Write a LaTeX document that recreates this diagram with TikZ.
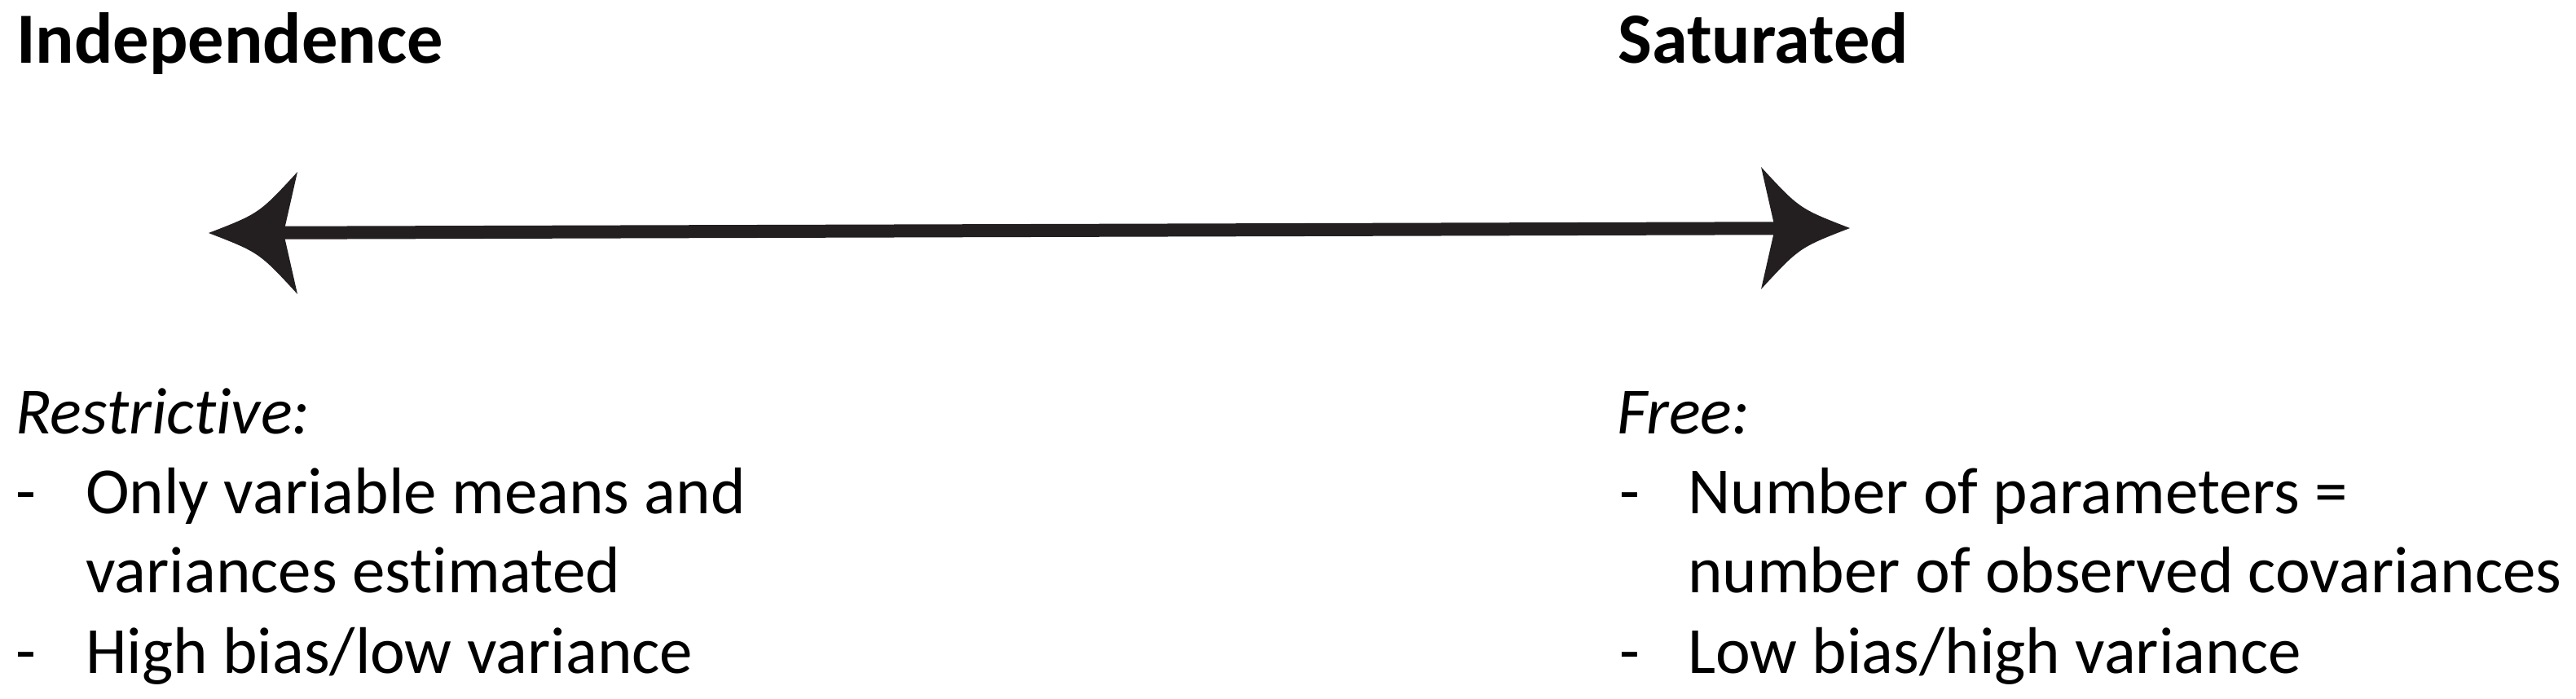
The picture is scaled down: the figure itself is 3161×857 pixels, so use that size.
\documentclass[tikz,border=0pt]{standalone}
\usepackage{fontspec}
\setmainfont{Carlito}[Ligatures=NoCommon]
\definecolor{arrowcol}{HTML}{231F20}
\tikzset{
  headtext/.style={font=\bfseries\fontsize{88.5}{104}\selectfont, anchor=base west, inner sep=0pt},
  subtext/.style={font=\itshape\fontsize{81}{97}\selectfont, anchor=base west, inner sep=0pt},
  bodytext/.style={font=\fontsize{81}{97}\selectfont, anchor=base west, inner sep=0pt},
  shaft/.style={line width=16pt, draw=arrowcol, shorten <=60pt, shorten >=60pt},
  tipfill/.style={fill=arrowcol}
}
\begin{document}
\begin{tikzpicture}[x=1pt,y=-1pt]
\useasboundingbox (0,0) rectangle (3161,857);
% headings
\node[headtext] (indep) at (20,77) {Independence};
\node[headtext] (satur) at (1985,77) {Saturated};
% arrow
\coordinate (ltip) at (256,286);
\coordinate (rtip) at (2270,280);
\draw[shaft] (ltip) -- (rtip);
\begin{scope}[shift={(ltip)}]
  \fill[tipfill] (0,0) .. controls (62,-24) .. (109,-75) -- (92,0) -- (109,75) .. controls (62,24) .. (0,0) -- cycle;
\end{scope}
\begin{scope}[shift={(rtip)}, xscale=-1]
  \fill[tipfill] (0,0) .. controls (62,-24) .. (109,-75) -- (92,0) -- (109,75) .. controls (62,24) .. (0,0) -- cycle;
\end{scope}
% left text
\node[subtext] (restr) at (19,532) {Restrictive:};
\node[bodytext] (ld1) at (19,630) {-};
\node[bodytext] (l1a) at (105,630) {Only variable means and};
\node[bodytext] (l1b) at (105,727) {variances estimated};
\node[bodytext] (ld2) at (19,826) {-};
\node[bodytext] (l2) at (105,826) {High bias/low variance};
% right text
\node[subtext] (free) at (1984,532) {Free:};
\node[bodytext] (rd1) at (1987,630) {-};
\node[bodytext] (r1a) at (2071,630) {Number of parameters =};
\node[bodytext] (r1b) at (2071,727) {number of observed covariances};
\node[bodytext] (rd2) at (1987,826) {-};
\node[bodytext] (r2) at (2071,826) {Low bias/high variance};
\end{tikzpicture}
\end{document}
